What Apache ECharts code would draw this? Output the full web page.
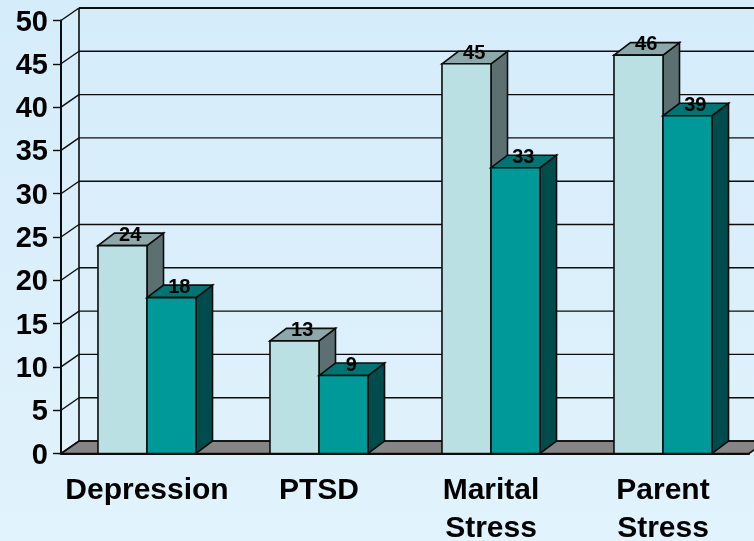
<!DOCTYPE html>
<html>
<head>
<meta charset="utf-8">
<style>html,body{margin:0;padding:0;background:#e0f2fb}#chart{width:754px;height:541px}</style>
<script src="https://cdn.jsdelivr.net/npm/echarts@6/dist/echarts.min.js"></script>
</head>
<body>
<div id="chart"></div>
<script>
// Outcome measures along the horizontal axis
const categories = ['Depression', 'PTSD', 'Marital\nStress', 'Parent\nStress'];
// Scores for the two groups of each measure
const lightSeries = [24, 13, 45, 46];
const tealSeries = [18, 9, 33, 39];
// Value axis ticks
const yTicks = [0, 5, 10, 15, 20, 25, 30, 35, 40, 45, 50];

// Extruded look: offset of the back wall and of the bars' rear faces, in pixels
const WALL_DX = 18, WALL_DY = 12.5;
const BAR_DX = 16.5, BAR_DY = 12.5;
const BAR_SHARE = 0.285;
const INK = '#0c0c0c';
const FONT = '"Liberation Sans", Arial, sans-serif';

function pgon(points, fill, lineWidth) {
  return { type: 'polygon', shape: { points }, style: { fill, stroke: INK, lineWidth: lineWidth || 1.6 } };
}

// One horizontal wall line per tick, with the diagonal joining it to the value axis
function renderWall(params, api) {
  const band = api.size([1, 0])[0];
  const p = api.coord([0, api.value(1)]);
  const x0 = p[0] - band / 2, y = p[1];
  const x1 = x0 + band * categories.length;
  const isTop = api.value(1) === yTicks[yTicks.length - 1];
  const line = { stroke: INK, lineWidth: 1.4 };
  const children = [
    { type: 'line', shape: { x1: x0, y1: y, x2: x0 + WALL_DX, y2: y - WALL_DY }, style: line },
    { type: 'line', shape: { x1: x0 + WALL_DX, y1: y - WALL_DY, x2: x1 + WALL_DX, y2: y - WALL_DY },
      style: { stroke: INK, lineWidth: isTop ? 2 : 1.4 } }
  ];
  if (api.value(1) === 0) {
    children.unshift(pgon([[x0, y], [x0 + WALL_DX, y - WALL_DY], [x1 + WALL_DX, y - WALL_DY], [x1, y]], '#858585'));
    const top = api.coord([0, yTicks[yTicks.length - 1]])[1];
    children.push({ type: 'line', shape: { x1: x0 + WALL_DX, y1: top - WALL_DY, x2: x0 + WALL_DX, y2: y - WALL_DY }, style: { stroke: INK, lineWidth: 1.6 } });
  }
  return { type: 'group', children };
}

// side: -1 draws the bar left of the band centre, 0 draws it right of the centre
function barRenderer(side, front, topFace, sideFace) {
  return function (params, api) {
    const v = api.value(1);
    const p = api.coord([api.value(0), v]);
    const base = api.coord([api.value(0), 0])[1];
    const w = api.size([1, 0])[0] * BAR_SHARE;
    const xl = p[0] + side * w, xr = xl + w, yt = p[1];
    return {
      type: 'group',
      children: [
        pgon([[xr, yt], [xr + BAR_DX, yt - BAR_DY], [xr + BAR_DX, base - BAR_DY], [xr, base]], sideFace),
        pgon([[xl, yt], [xl + BAR_DX, yt - BAR_DY], [xr + BAR_DX, yt - BAR_DY], [xr, yt]], topFace),
        pgon([[xl, yt], [xr, yt], [xr, base], [xl, base]], front),
        { type: 'text', style: {
            text: String(v), x: (xl + xr + BAR_DX) / 2 - 0.5, y: yt - BAR_DY + 2,
            align: 'center', verticalAlign: 'middle',
            font: 'bold 20px ' + FONT, fill: '#000000' } }
      ]
    };
  };
}

const chart = echarts.init(document.getElementById('chart'), null, { renderer: 'canvas' });
chart.setOption({
  animation: false,
  backgroundColor: {
    type: 'linear', x: 0, y: 0, x2: 0, y2: 1,
    colorStops: [{ offset: 0, color: '#d5ecfa' }, { offset: 1, color: '#e1f3fc' }]
  },
  grid: { left: 61, right: 5, top: 20.5, bottom: 87.5, containLabel: false, outerBoundsMode: 'none' },
  xAxis: {
    type: 'category',
    data: categories,
    z: 6,
    axisLine: { lineStyle: { color: INK, width: 2 } },
    axisTick: { length: 8, lineStyle: { color: INK, width: 1.4 } },
    axisLabel: { color: '#000', fontFamily: FONT, fontWeight: 'bold', fontSize: 30, lineHeight: 38.5, margin: 17.5, interval: 0 }
  },
  yAxis: {
    type: 'value', min: 0, max: 50, interval: 5,
    axisLine: { show: true, lineStyle: { color: INK, width: 2 } },
    axisTick: { show: true, length: 8, lineStyle: { color: INK, width: 1.4 } },
    axisLabel: {
      margin: 13,
      formatter: '{tick|{value}}',
      rich: { tick: { color: '#000', fontFamily: FONT, fontWeight: 'bold', fontSize: 29, padding: [4, 0, 0, 0] } }
    },
    splitLine: { show: false }
  },
  series: [
    { type: 'custom', name: 'wall', z: 1, clip: false, renderItem: renderWall,
      data: yTicks.map(t => [0, t]), encode: { x: 0, y: 1 }, silent: true },
    { type: 'custom', name: 'Group A', z: 3, clip: false,
      renderItem: barRenderer(-1, '#bbe0e3', '#8ca8aa', '#5d7071'),
      data: lightSeries.map((v, i) => [i, v]), encode: { x: 0, y: 1 } },
    { type: 'custom', name: 'Group B', z: 4, clip: false,
      renderItem: barRenderer(0, '#009999', '#007373', '#004c4c'),
      data: tealSeries.map((v, i) => [i, v]), encode: { x: 0, y: 1 } }
  ]
});
</script>
</body>
</html>
